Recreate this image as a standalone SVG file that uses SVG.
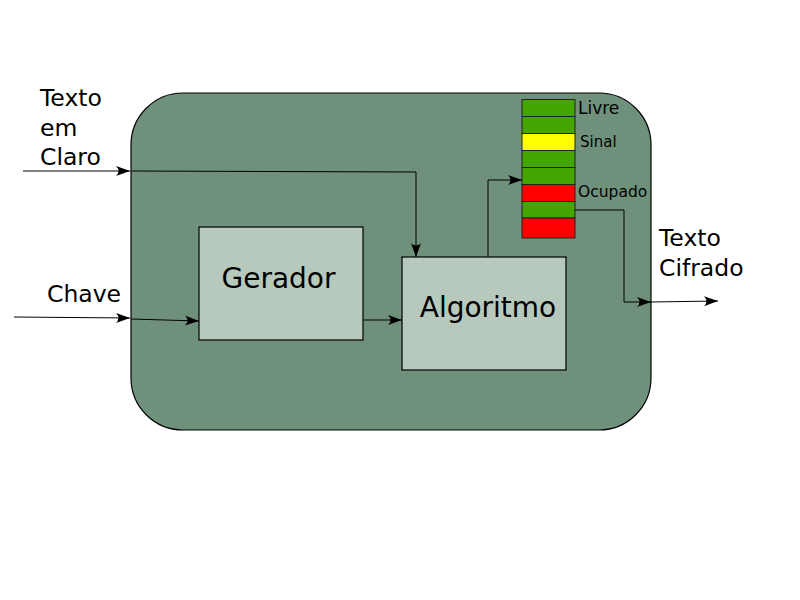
<svg xmlns="http://www.w3.org/2000/svg" width="800" height="600" viewBox="0 0 800 600">
<style>
.box{fill:#b7c8bd;stroke:#000;stroke-width:1.2}
.cell{stroke:#222;stroke-width:1}
.g{fill:#44a500}
.y{fill:#ffff00}
.r{fill:#ff0000}
.t{font-family:"DejaVu Sans",sans-serif;fill:#000}
.c{fill:none;stroke:#000;stroke-width:1;marker-end:url(#ar)}
</style>
<defs>
<marker id="ar" markerUnits="userSpaceOnUse" viewBox="-15 -6 16 12" refX="0" refY="0" markerWidth="16" markerHeight="12" orient="auto">
<path d="M0,0 L-14,-5 Q-9,0 -14,5 Z" fill="#000"/>
</marker>
</defs>
<rect width="800" height="600" fill="#fff"/>
<g id="container">
<rect x="131" y="93" width="520" height="337" rx="52" ry="52" fill="#6f917b" stroke="#000" stroke-width="1.2"/>
</g>
<g id="gerador">
<rect class="box" x="199" y="227" width="164" height="113"/>
<text class="t" x="278.5" y="288" font-size="28" text-anchor="middle">Gerador</text>
</g>
<g id="algoritmo">
<rect class="box" x="402" y="257" width="164" height="113"/>
<text class="t" x="488" y="317" font-size="28" text-anchor="middle">Algoritmo</text>
</g>
<g id="buffer">
<rect class="cell g" x="522" y="99.5" width="53" height="17"/>
<rect class="cell g" x="522" y="116.5" width="53" height="17"/>
<rect class="cell y" x="522" y="133.5" width="53" height="17"/>
<rect class="cell g" x="522" y="150.5" width="53" height="17"/>
<rect class="cell g" x="522" y="167.5" width="53" height="17"/>
<rect class="cell r" x="522" y="184.5" width="53" height="17"/>
<rect class="cell g" x="522" y="201.5" width="53" height="16.5"/>
<rect class="cell r" x="522" y="218" width="53" height="20"/>
<text class="t" x="578" y="114" font-size="17">Livre</text>
<text class="t" x="580" y="147" font-size="15">Sinal</text>
<text class="t" x="578" y="197" font-size="15.5">Ocupado</text>
</g>
<g id="labels">
<text class="t" font-size="23.5"><tspan x="40" y="106">Texto</tspan><tspan x="40" y="136">em</tspan><tspan x="40" y="165">Claro</tspan></text>
<text class="t" x="47" y="302" font-size="23.5">Chave</text>
<text class="t" font-size="23.5"><tspan x="659" y="246">Texto</tspan><tspan x="659" y="276">Cifrado</tspan></text>
</g>
<g id="connectors">
<path class="c" d="M23,171 L130,171"/>
<path class="c" d="M131,171 L416,172 L416,257"/>
<path class="c" d="M14,317 L130,318"/>
<path class="c" d="M131,319 L199,321"/>
<path class="c" d="M363,320 L402,320"/>
<path class="c" d="M488,257 L488,180 L522,180"/>
<path class="c" d="M575,210 L624,210 L624,302 L651,302"/>
<path class="c" d="M651,302 L718,301"/>
</g>
</svg>
